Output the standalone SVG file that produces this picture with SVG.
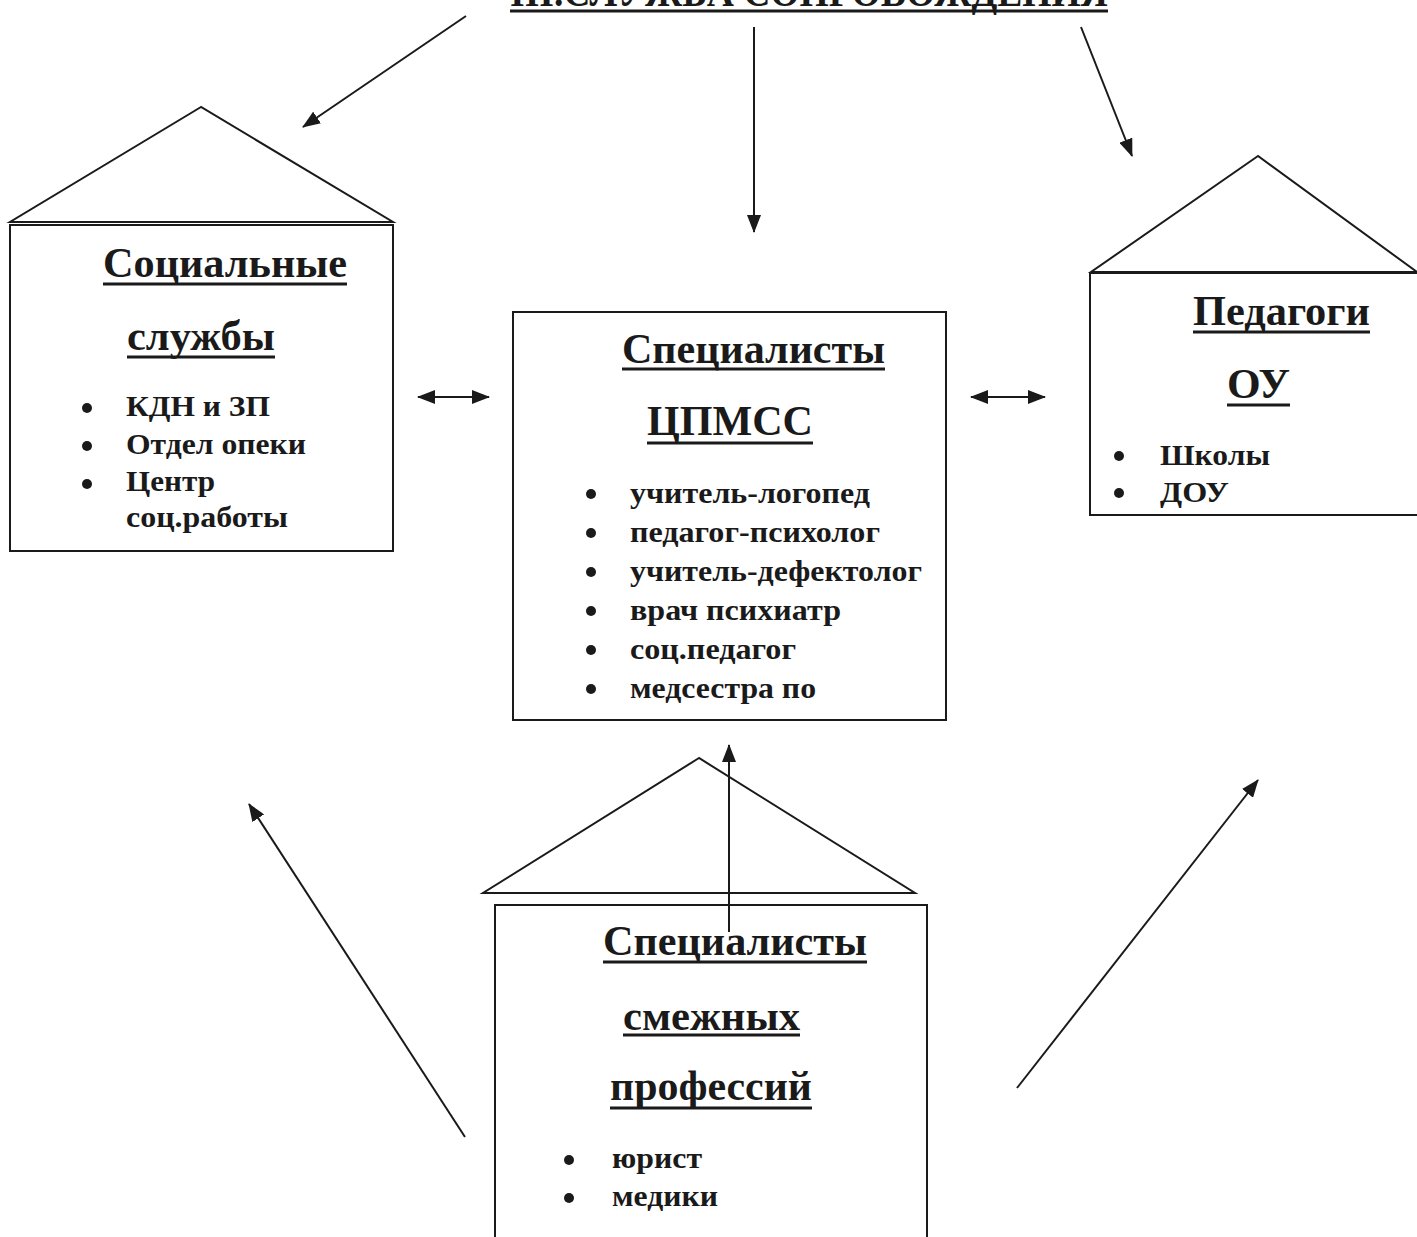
<svg xmlns="http://www.w3.org/2000/svg" width="1417" height="1237" viewBox="0 0 1417 1237">
<style>
.box{fill:none;stroke:#1a1a1a;stroke-width:2}
.ul{stroke:#1a1a1a;stroke-width:3}
.h{font-family:"Liberation Serif","Times New Roman",serif;font-weight:bold;font-size:42px;fill:#1a1a1a}
.t{font-family:"Liberation Serif","Times New Roman",serif;font-weight:bold;font-size:29px;fill:#1a1a1a}
.b{fill:#1a1a1a}
.c{fill:none;stroke:#1a1a1a;stroke-width:2}
</style>
<defs>
<marker id="ah" viewBox="0 0 18 14" refX="17" refY="7" markerWidth="18" markerHeight="14" markerUnits="userSpaceOnUse" orient="auto-start-reverse">
<path d="M0,0 L18,7 L0,14 Z" fill="#1a1a1a"/>
</marker>
</defs>
<rect width="1417" height="1237" fill="#ffffff"/>

<g id="title">
<text class="h" x="510" y="6" textLength="598" lengthAdjust="spacingAndGlyphs">III.СЛУЖБА СОПРОВОЖДЕНИЯ</text>
<line class="ul" x1="510" y1="11" x2="1108" y2="11"/>
</g>

<g id="node-social">
<polygon class="box" points="201,107 10,222 393,222"/>
<rect class="box" x="10" y="225" width="383" height="326"/>
<text class="h" x="103" y="277" textLength="244" lengthAdjust="spacingAndGlyphs">Социальные</text>
<line class="ul" x1="103" y1="284" x2="347" y2="284"/>
<text class="h" x="127" y="350" textLength="148" lengthAdjust="spacingAndGlyphs">службы</text>
<line class="ul" x1="127" y1="357" x2="275" y2="357"/>
<circle class="b" cx="87" cy="408" r="5"/>
<circle class="b" cx="87" cy="446" r="5"/>
<circle class="b" cx="87" cy="484" r="5"/>
<text class="t" x="126" y="416" textLength="144" lengthAdjust="spacingAndGlyphs">КДН и ЗП</text>
<text class="t" x="126" y="454" textLength="180" lengthAdjust="spacingAndGlyphs">Отдел опеки</text>
<text class="t" x="126" y="491" textLength="89" lengthAdjust="spacingAndGlyphs">Центр</text>
<text class="t" x="126" y="527" textLength="162" lengthAdjust="spacingAndGlyphs">соц.работы</text>
</g>

<g id="node-cpmss">
<rect class="box" x="513" y="312" width="433" height="408"/>
<text class="h" x="622" y="363" textLength="263" lengthAdjust="spacingAndGlyphs">Специалисты</text>
<line class="ul" x1="622" y1="369" x2="885" y2="369"/>
<text class="h" x="647" y="435" textLength="166" lengthAdjust="spacingAndGlyphs">ЦПМСС</text>
<line class="ul" x1="647" y1="443" x2="813" y2="443"/>
<circle class="b" cx="591" cy="494" r="5"/>
<circle class="b" cx="591" cy="533" r="5"/>
<circle class="b" cx="591" cy="572" r="5"/>
<circle class="b" cx="591" cy="611" r="5"/>
<circle class="b" cx="591" cy="650" r="5"/>
<circle class="b" cx="591" cy="689" r="5"/>
<text class="t" x="630" y="503" textLength="240" lengthAdjust="spacingAndGlyphs">учитель-логопед</text>
<text class="t" x="630" y="542" textLength="250" lengthAdjust="spacingAndGlyphs">педагог-психолог</text>
<text class="t" x="630" y="581" textLength="292" lengthAdjust="spacingAndGlyphs">учитель-дефектолог</text>
<text class="t" x="630" y="620" textLength="211" lengthAdjust="spacingAndGlyphs">врач психиатр</text>
<text class="t" x="630" y="659" textLength="166" lengthAdjust="spacingAndGlyphs">соц.педагог</text>
<text class="t" x="630" y="698" textLength="186" lengthAdjust="spacingAndGlyphs">медсестра по</text>
</g>

<g id="node-pedagogi">
<polygon class="box" points="1258,156 1091,272 1417,272"/>
<rect class="box" x="1090" y="273" width="330" height="242"/>
<text class="h" x="1193" y="325" textLength="177" lengthAdjust="spacingAndGlyphs">Педагоги</text>
<line class="ul" x1="1193" y1="332" x2="1370" y2="332"/>
<text class="h" x="1227" y="398" textLength="63" lengthAdjust="spacingAndGlyphs">ОУ</text>
<line class="ul" x1="1227" y1="405" x2="1290" y2="405"/>
<circle class="b" cx="1119" cy="456" r="5"/>
<circle class="b" cx="1119" cy="493" r="5"/>
<text class="t" x="1160" y="465" textLength="110" lengthAdjust="spacingAndGlyphs">Школы</text>
<text class="t" x="1160" y="502" textLength="69" lengthAdjust="spacingAndGlyphs">ДОУ</text>
</g>

<g id="node-smezhnye">
<polygon class="box" points="699,758 483,893 915,893"/>
<rect class="box" x="495" y="905" width="432" height="340"/>
<text class="h" x="603" y="955" textLength="264" lengthAdjust="spacingAndGlyphs">Специалисты</text>
<line class="ul" x1="603" y1="962" x2="867" y2="962"/>
<text class="h" x="623" y="1030" textLength="177" lengthAdjust="spacingAndGlyphs">смежных</text>
<line class="ul" x1="623" y1="1035" x2="800" y2="1035"/>
<text class="h" x="610" y="1100" textLength="202" lengthAdjust="spacingAndGlyphs">профессий</text>
<line class="ul" x1="610" y1="1108" x2="812" y2="1108"/>
<circle class="b" cx="569" cy="1160" r="5"/>
<circle class="b" cx="569" cy="1198" r="5"/>
<text class="t" x="612" y="1168" textLength="90" lengthAdjust="spacingAndGlyphs">юрист</text>
<text class="t" x="612" y="1206" textLength="106" lengthAdjust="spacingAndGlyphs">медики</text>
</g>

<g id="connectors">
<line class="c" x1="466" y1="16" x2="303" y2="127" marker-end="url(#ah)"/>
<line class="c" x1="754" y1="27" x2="754" y2="232" marker-end="url(#ah)"/>
<line class="c" x1="1081" y1="27" x2="1132" y2="156" marker-end="url(#ah)"/>
<line class="c" x1="418" y1="397" x2="489" y2="397" marker-start="url(#ah)" marker-end="url(#ah)"/>
<line class="c" x1="971" y1="397" x2="1045" y2="397" marker-start="url(#ah)" marker-end="url(#ah)"/>
<line class="c" x1="729" y1="932" x2="729" y2="745" marker-end="url(#ah)"/>
<line class="c" x1="465" y1="1137" x2="249" y2="804" marker-end="url(#ah)"/>
<line class="c" x1="1017" y1="1088" x2="1258" y2="780" marker-end="url(#ah)"/>
</g>
</svg>
